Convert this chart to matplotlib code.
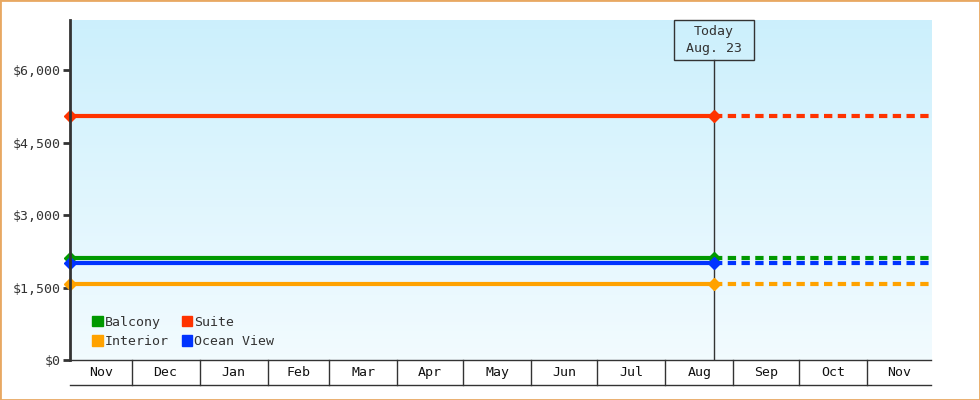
import matplotlib
matplotlib.use("Agg")
import matplotlib.pyplot as plt
import matplotlib.dates as mdates
from matplotlib.patches import Rectangle
from matplotlib.transforms import blended_transform_factory
import numpy as np
from datetime import datetime

# price history per cabin type (start of range, today)
series_names = ["Balcony", "Suite", "Interior", "Ocean View"]
series_colors = ["#009900", "#ff3300", "#ffa200", "#0033ff"]
start_prices = [2110, 5050, 1580, 2000]
today_prices = [2110, 5050, 1580, 2000]

range_start = datetime(2024, 11, 3)
today = datetime(2025, 8, 23)
range_end = datetime(2025, 11, 30)
today_label = "Today\nAug. 23"

y_ticks = [0, 1500, 3000, 4500, 6000]
y_max = 7040

month_starts = [datetime(2024, 12, 1), datetime(2025, 1, 1), datetime(2025, 2, 1),
                datetime(2025, 3, 1), datetime(2025, 4, 1), datetime(2025, 5, 1),
                datetime(2025, 6, 1), datetime(2025, 7, 1), datetime(2025, 8, 1),
                datetime(2025, 9, 1), datetime(2025, 10, 1), datetime(2025, 11, 1)]
month_labels = ["Nov", "Dec", "Jan", "Feb", "Mar", "Apr", "May",
                "Jun", "Jul", "Aug", "Sep", "Oct", "Nov"]

FONT = "DejaVu Sans Mono"
DARK = "#333333"
plt.rcParams['font.family'] = FONT

fig = plt.figure(figsize=(9.8, 4.0), dpi=100)
fig.patches.append(Rectangle((0, 0), 1, 1, transform=fig.transFigure, fill=False,
                             edgecolor="#e8a862", linewidth=2))
ax = fig.add_axes([70 / 980, 40 / 400, 861 / 980, 340 / 400])

x0 = mdates.date2num(range_start)
x1 = mdates.date2num(range_end)
xt = mdates.date2num(today)
ax.set_xlim(x0, x1)
ax.set_ylim(0, y_max)

# gradient background
grad = np.linspace(0, 1, 256).reshape(-1, 1)
top = np.array([0.80, 0.94, 0.99])
bot = np.array([0.95, 0.985, 1.0])
img = top + (bot - top) * grad[:, :, None] * np.ones((1, 1, 3))
ax.imshow(img, extent=[0, 1, 0, 1], transform=ax.transAxes, aspect='auto', zorder=0)

for name, color, p0, p1 in zip(series_names, series_colors, start_prices, today_prices):
    ax.plot([x0, xt], [p0, p1], color=color, lw=3, zorder=3, solid_capstyle='butt')
    ax.plot([xt, x1], [p1, p1], color=color, lw=3, zorder=3, dashes=(2, 1.3),
            dash_capstyle='butt')
    ax.plot([x0, xt], [p0, p1], ls='none', marker='D', ms=6, color=color, zorder=4,
            clip_on=False)

# today line and box
trans = blended_transform_factory(ax.transData, ax.transAxes)
box_h = 40 / 340
box_w = (x1 - x0) * 80 / 861
ax.plot([xt, xt], [0, 1 - box_h], color=DARK, lw=1, zorder=2, transform=trans)
ax.add_patch(Rectangle((xt - box_w / 2, 1 - box_h), box_w, box_h, transform=trans,
                       facecolor='none', edgecolor=DARK, lw=1, zorder=5, clip_on=False))
ax.text(xt, 1 - box_h / 2, today_label, ha='center', va='center', transform=trans,
        fontsize=9.5, color=DARK, linespacing=1.4, zorder=5)

# axes styling
for s in ['top', 'right']:
    ax.spines[s].set_visible(False)
ax.spines['left'].set_color(DARK)
ax.spines['left'].set_linewidth(2)
ax.spines['bottom'].set_color(DARK)
ax.spines['bottom'].set_linewidth(1)
ax.spines['left'].set_zorder(6)
ax.set_yticks(y_ticks)
ax.set_yticklabels(["${:,}".format(v) for v in y_ticks], fontsize=9.5, color=DARK)
ax.tick_params(axis='y', length=5, width=2, color=DARK, pad=2)
ax.set_xticks([])

# month band row under the axis
row_h = 25 / 340
edges = [x0] + [mdates.date2num(d) for d in month_starts] + [x1]
for e in edges[1:-1]:
    ax.plot([e, e], [0, -row_h], color=DARK, lw=1, transform=trans, clip_on=False)
ax.plot([x0, x1], [-row_h, -row_h], color=DARK, lw=1, transform=trans, clip_on=False)
for lab, a, b in zip(month_labels, edges[:-1], edges[1:]):
    ax.text((a + b) / 2, -row_h / 2, lab, transform=trans, ha='center', va='center',
            fontsize=9.5, color='#111111')

# legend
handles = [Rectangle((0, 0), 1, 1, color=c) for c in series_colors]
order = [0, 2, 1, 3]
leg = ax.legend([handles[i] for i in order], [series_names[i] for i in order],
                ncol=2, loc='lower left', bbox_to_anchor=(0.012, 0.0), frameon=False,
                handlelength=0.8, handleheight=0.8, handletextpad=0.15,
                columnspacing=1.0, labelspacing=0.5, fontsize=9.5)
for t in leg.get_texts():
    t.set_color(DARK)

fig.savefig("out.png", dpi=100)
